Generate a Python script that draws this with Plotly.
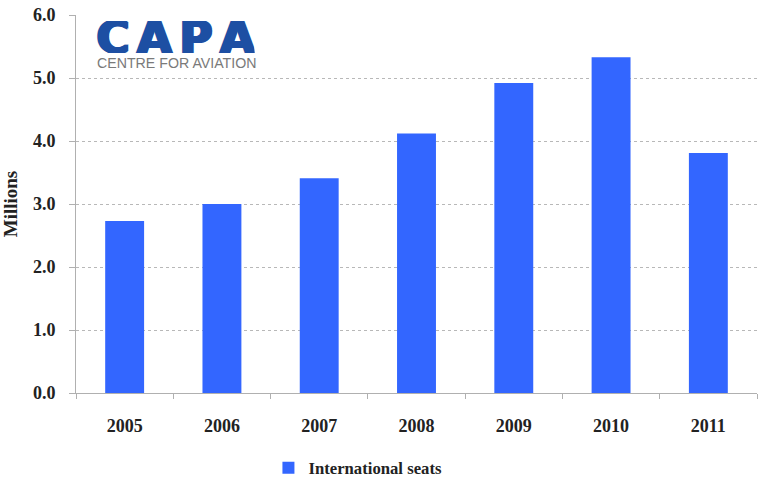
import plotly.graph_objects as go

years = ["2005", "2006", "2007", "2008", "2009", "2010", "2011"]
seats_millions = [2.73, 3.0, 3.41, 4.12, 4.92, 5.33, 3.81]
y_ticks = [0, 1, 2, 3, 4, 5, 6]
y_tick_labels = ["0.0", "1.0", "2.0", "3.0", "4.0", "5.0", "6.0"]
logo_word = "C\u2006A\u2006P\u2006A"
logo_subtitle = "CENTRE FOR AVIATION"

serif = "Liberation Serif, Times New Roman, serif"

fig = go.Figure()
fig.add_trace(go.Bar(
    x=years, y=seats_millions, name="International seats",
    marker=dict(color="#3366FF", line=dict(width=0)),
    showlegend=True,
))

fig.update_layout(
    width=773, height=482,
    margin=dict(l=76, r=16, t=15, b=89, autoexpand=False),
    paper_bgcolor="white", plot_bgcolor="white",
    bargap=0.6,
    font=dict(family=serif, size=18, color="#222222"),
    showlegend=True,
    legend=dict(orientation="h", x=0.414, xanchor="center", y=-0.198, yanchor="middle",
                font=dict(family=serif, size=16.7, color="#222222", weight="bold"),
                bgcolor="rgba(0,0,0,0)"),
    xaxis=dict(
        type="category", showline=True, linecolor="#b0b0b0", linewidth=1,
        ticks="outside", tickson="boundaries", ticklen=5, tickcolor="#b0b0b0",
        showgrid=False, ticklabelstandoff=16, automargin=False,
        tickfont=dict(family=serif, size=18, color="#222222", weight="bold"),
    ),
    yaxis=dict(
        range=[0, 6], tickvals=y_ticks, ticktext=y_tick_labels,
        showline=True, linecolor="#b0b0b0", linewidth=1,
        ticks="outside", ticklen=6, tickcolor="#b0b0b0",
        showgrid=True, gridcolor="#b8b8b8", griddash="dot", gridwidth=1,
        zeroline=False, ticklabelstandoff=10, automargin=False,
        tickfont=dict(family=serif, size=18, color="#222222", weight="bold"),
        title=dict(text="Millions", standoff=19,
                   font=dict(family=serif, size=19, color="#222222", weight="bold")),
    ),
)

logo_blue = "#1d4fa3"
fig.add_annotation(xref="paper", yref="paper", x=0.026, y=0.943, xanchor="left", yanchor="middle",
                   text="<b>" + logo_word + "</b>", showarrow=False, height=32,
                   font=dict(family="DejaVu Sans", size=45, color=logo_blue,
                             shadow="1px 0px 0px %s, -1px 0px 0px %s, 2px 0px 0px %s, 1px 1px 0px %s"
                                    % (logo_blue, logo_blue, logo_blue, logo_blue)))
fig.add_annotation(xref="paper", yref="paper", x=0.0279, y=0.872, xanchor="left", yanchor="middle",
                   text=logo_subtitle, showarrow=False, height=12,
                   font=dict(family="Liberation Sans, Arial, sans-serif", size=14.2, color="#7a7a7a"))

fig.write_html("out.html")
